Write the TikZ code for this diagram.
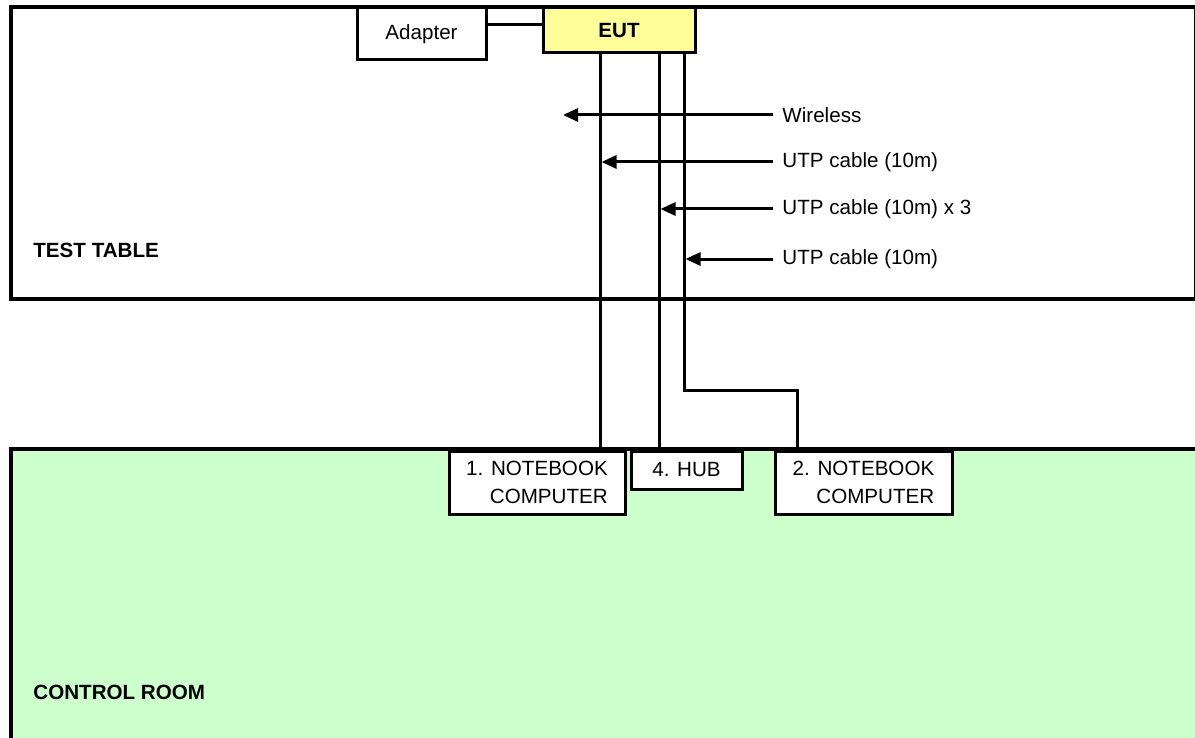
\documentclass[tikz,border=0pt]{standalone}
\usepackage{fontspec}
\setmainfont{Liberation Sans}
\usetikzlibrary{arrows.meta}
\definecolor{eutyellow}{HTML}{FFFF99}
\definecolor{roomgreen}{HTML}{CCFFCC}
\begin{document}
\begin{tikzpicture}[x=0.5pt,y=-0.5pt,
  every node/.style={font=\fontsize{10.3pt}{14pt}\selectfont},
  box/.style={draw, line width=1.5pt, fill=white, inner sep=0pt, align=center},
  area/.style={draw, line width=2pt},
  cable/.style={line width=1.5pt},
  arr/.style={line width=1.5pt, -{Triangle[length=7.5pt,width=6.5pt]}},
  lbl/.style={anchor=west, inner sep=0pt},
  title/.style={anchor=west, inner sep=0pt, font=\fontsize{10.3pt}{14pt}\selectfont\bfseries}]
\useasboundingbox (0,0) rectangle (1195,738);
\clip (0,0) rectangle (1195,738);
% areas
\draw[area, fill=white] (11,7) rectangle (1196,299);
\draw[area, fill=roomgreen] (11,449) rectangle (1230,770);
\node[title] (tt) at (33,250) {TEST TABLE};
\node[title] (cr) at (33,692) {CONTROL ROOM};
% boxes
\node[box, minimum width=64.5pt, minimum height=26pt] (adp) at (421.5,34) {Adapter};
\node[box, fill=eutyellow, minimum width=76pt, minimum height=22.5pt,
      font=\fontsize{10.3pt}{14pt}\selectfont\bfseries] (eut) at (619,30.5) {EUT};
\node[box, align=right, minimum width=88pt, minimum height=31.5pt] (nb1) at (537,482.5) {1. NOTEBOOK\\COMPUTER};
\node[box, minimum width=55.5pt, minimum height=19pt] (hub) at (686.5,470) {4. HUB};
\node[box, align=right, minimum width=88.5pt, minimum height=31.5pt] (nb2) at (863.5,482.5) {2. NOTEBOOK\\COMPUTER};
% connections
\draw[cable] ([yshift=4.5pt]adp.east) -- ([yshift=4.5pt]adp.east -| eut.west);
\draw[cable] ([xshift=-9.5pt]eut.south) coordinate (c1) -- (c1 |- nb1.north);
\draw[cable] ([xshift=20pt]eut.south) coordinate (c2) -- (c2 |- hub.north);
\coordinate (n2top) at ([xshift=-33.25pt]nb2.north);
\draw[cable] ([xshift=32.5pt]eut.south) coordinate (c3) -- ([yshift=-168pt]c3) -| (n2top);
% labels and arrows
\node[lbl] (wl) at (782,115) {Wireless};
\coordinate (wtip) at (563,115);
\draw[arr] ([xshift=-4.5pt]wl.west) -- (wtip);
\node[lbl] (u1) at (782,162) {UTP cable (10m)};
\draw[arr] ([xshift=-4.5pt]u1.west) -- ([xshift=0.75pt]u1.west -| c1);
\node[lbl] (u2) at (782,209) {UTP cable (10m) x 3};
\draw[arr] ([xshift=-4.5pt]u2.west) -- ([xshift=0.75pt]u2.west -| c2);
\node[lbl] (u3) at (782,259) {UTP cable (10m)};
\draw[arr] ([xshift=-4.5pt]u3.west) -- ([xshift=0.75pt]u3.west -| c3);
\end{tikzpicture}
\end{document}
